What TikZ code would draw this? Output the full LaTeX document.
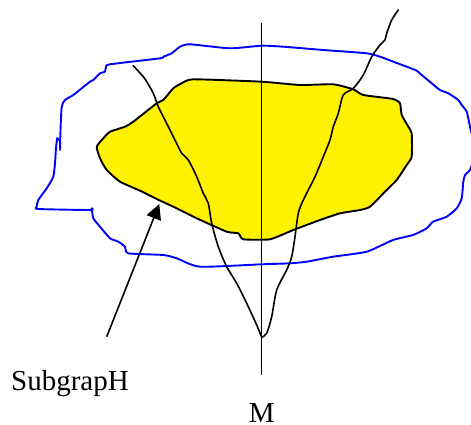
\documentclass[tikz,border=0pt]{standalone}
\usepackage{fontspec}
\setmainfont{Liberation Serif}
\usetikzlibrary{arrows.meta}
\begin{document}
\begin{tikzpicture}[x=1pt,y=-1pt,
  blueline/.style={draw=blue, line width=1.9pt, line join=round, line cap=round},
  blob/.style={draw=black, fill=yellow, line width=1.9pt, line join=round},
  wavy/.style={draw=black, line width=1.6pt, line join=round, line cap=round},
  axis/.style={draw=black, line width=1.5pt},
  lbl/.style={font=\fontsize{29}{34}\selectfont, anchor=base, inner sep=0pt},
  pointer/.style={draw=black, line width=1.6pt, -{Triangle[length=15pt,width=15pt]}}]
\useasboundingbox (0,0) rectangle (471,425);
% blue outer region
\draw[blueline] plot[smooth, tension=0.35] coordinates {
 (60,150) (60.5,130) (61.7,106.7) (65,100) (73.3,95) (81.7,88.3) (90,81.7) (93.3,80)
 (100,73.3) (105,71.7) (106,66.7) (110,64.3) (160,58.3) (163.3,56.7) (171.7,53.3)
 (180,46.7) (190,44.3) (230,48.3) (261.7,45.7) (283.3,46.7) (323.3,50) (366.7,53.3)
 (380,56.7) (393.3,61.7) (406.7,66.7) (416.7,70.7) (421.7,75) (431.7,83.3) (440,90)
 (448.3,93.3) (458.3,100) (461.7,105) (466.7,111.7) (470,126.7) (473,140) (473,160)
 (470,170) (465,175) (463.3,181.7) (461.7,198.3) (456.7,208.3) (446.7,216.7) (433,221.7)
 (426.7,228.3) (413,235) (393,240) (366.7,251.7) (333,256.7) (306.7,261.7) (290,263.3)
 (261.7,264.3) (200,266.7) (176.7,258.3) (163.3,255) (128.3,253.3) (125,246.7)
 (118.3,241.7) (110,238.3) (100,226.7) (93.3,218.3) (91.7,208.3) (90,210) (38.3,209)
 (36.7,206.7) (38.3,200) (46.7,188.3) (53.3,176.7) (55,163) (56,148) (57.3,138)
 (58.5,140)};
% yellow subgraph
\draw[blob] plot[smooth cycle, tension=0.3] coordinates {
 (96.7,146.7) (103.3,138.3) (110,131.7) (125,126.7) (133.3,121.7) (156.7,103.3)
 (163.3,100) (173.3,88.3) (181.7,83.3) (193.3,79.3) (261.7,81.7) (300,85) (333.3,84.3)
 (353.3,89.3) (363.3,95) (393.3,99) (400,103.3) (401.7,115) (408.3,126.7) (411.7,133.3)
 (411.7,156.7) (406.7,165) (396.7,180) (386.7,190) (370,206.7) (360,210) (340,213.3)
 (320,220) (293.3,230) (270,239.3) (243.3,239.3) (238.3,233.3) (226.7,231.7)
 (196.7,218.3) (176.7,208.3) (156.7,199) (140,190.7) (120,181.7) (106.7,170) (100,158.3)};
% black curves
\draw[wavy] plot[smooth, tension=0.45] coordinates {
 (133.3,65.7) (143.3,76.7) (145.7,80) (153.3,93.3) (158.3,106.7) (163.3,116.7)
 (170,130) (173.3,136.7) (178.3,146.7) (181.7,153.3) (188.3,160) (196.7,176.7)
 (203.3,193.3) (208.3,203.3) (211.7,223.3) (218.3,246.7) (226.7,266.7) (236.7,283.3)
 (246.7,303.3) (256.7,325) (261.7,337.3)};
\draw[wavy] plot[smooth, tension=0.45] coordinates {
 (261.7,337.3) (266.7,333.3) (271.7,316.7) (276.7,290) (286.7,270) (291.7,256.7)
 (295,236.7) (298.3,213.3) (303.3,200) (315,176.7) (323.3,156.7) (330,140)
 (333.3,126.7) (338.3,113.3) (343.3,95) (353.3,88.3) (363.3,75) (371.7,56.7)
 (380,45) (385,40) (386.7,33.3) (391.7,20) (398.3,10)};
% vertical line M
\coordinate (mtop) at (261.7,23.3);
\coordinate (mbot) at (261.7,375);
\draw[axis] (mtop) -- (mbot);
% labels
\node[lbl] (sub) at (70,390) {SubgrapH};
\node[lbl] (m) at (261.7,422) {M};
% arrow
\coordinate (atail) at (106.7,336.7);
\coordinate (ahead) at (159.3,204);
\draw[pointer] (atail) -- (ahead);
\end{tikzpicture}
\end{document}
